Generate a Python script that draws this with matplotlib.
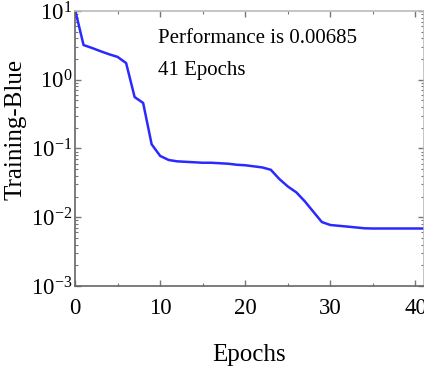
import numpy as np
import matplotlib
matplotlib.use("Agg")
import matplotlib.pyplot as plt
from matplotlib.ticker import LogLocator, FixedLocator

plt.rcParams['font.family'] = ['Liberation Serif', 'DejaVu Serif']
plt.rcParams['mathtext.fontset'] = 'custom'
plt.rcParams['mathtext.rm'] = 'Liberation Serif'
plt.rcParams['mathtext.it'] = 'Liberation Serif:italic'

# training performance per epoch
epochs = list(range(0, 42))
perf = [10.5, 3.2, 2.9, 2.6, 2.35, 2.15, 1.75, 0.56, 0.46, 0.115,
        0.078, 0.068, 0.065, 0.064, 0.063, 0.062, 0.062, 0.061, 0.060, 0.058,
        0.057, 0.055, 0.053, 0.049, 0.036, 0.028, 0.023, 0.017, 0.012, 0.0085,
        0.0077, 0.0075, 0.0073, 0.0071, 0.0069, 0.00685, 0.00685, 0.00685, 0.00685, 0.00685,
        0.00685, 0.00685]
xticks = [0, 10, 20, 30, 40]
yticks = [1e-3, 1e-2, 1e-1, 1e0, 1e1]
ytick_labels = ['$10^{-3}$', '$10^{-2}$', '$10^{-1}$', '$10^{0}$', '$10^{1}$']

fig = plt.figure(figsize=(4.24, 3.68), dpi=100)
ax = fig.add_axes([0.177, 0.223, 0.823, 0.747])
ax.plot(epochs, perf, color='#2a2aff', lw=1.8)
ax.set_yscale('log')
ax.set_xlim(0, 41)
ax.set_ylim(1e-3, 10)

ax.set_xticks(xticks)
ax.xaxis.set_minor_locator(FixedLocator([5, 15, 25, 35]))
ax.set_yticks(yticks)
ax.set_yticklabels(ytick_labels)
ax.yaxis.set_minor_locator(LogLocator(base=10, subs=np.arange(2, 10)))
ax.yaxis.set_minor_formatter(plt.NullFormatter())

ax.tick_params(which='both', direction='in', top=True, right=True,
               colors='#777777', labelcolor='black', labelsize=16.5)
ax.tick_params(which='major', length=4, width=1)
ax.tick_params(which='minor', length=2.5, width=0.8)
ax.tick_params(axis='x', pad=9)
ax.tick_params(axis='y', pad=2)

for side in ['left', 'bottom']:
    ax.spines[side].set_color('#666666')
    ax.spines[side].set_linewidth(1.2)
for side in ['top', 'right']:
    ax.spines[side].set_color('#bbbbbb')
    ax.spines[side].set_linewidth(1.2)

ax.set_xlabel('Epochs', fontsize=18, labelpad=18)
ax.set_ylabel('Training-Blue', fontsize=18)
ax.yaxis.set_label_coords(-0.14, 0.57)

ax.text(0.237, 0.884, 'Performance is 0.00685', transform=ax.transAxes, fontsize=15)
ax.text(0.237, 0.767, '41 Epochs', transform=ax.transAxes, fontsize=15)

fig.savefig('out.png', dpi=100)
